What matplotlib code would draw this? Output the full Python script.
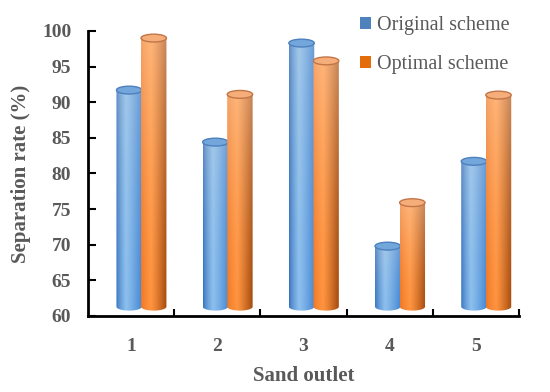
import numpy as np
import matplotlib.pyplot as plt
from matplotlib.patches import Ellipse, Polygon

outlets = ['1', '2', '3', '4', '5']
original = [91.7, 84.4, 98.3, 69.8, 81.7]
optimal = [99.0, 91.1, 95.8, 75.9, 91.0]
series_names = ['Original scheme', 'Optimal scheme']

plt.rcParams['font.family'] = ['Liberation Serif', 'DejaVu Serif']
GRAY = '#595959'

BASE = 61.3
EH = 0.55  # half height of the end ellipses, in data units

# left edge, highlight, right edge, top face, outline
BLUE = dict(dark=(0.20, 0.44, 0.74), light=(0.55, 0.75, 0.93), right=(0.27, 0.53, 0.83),
            top=(0.45, 0.65, 0.86), edge=(0.30, 0.50, 0.74), legend='#4f81bd', mix=0.18)
ORANGE = dict(dark=(0.93, 0.46, 0.14), light=(1.0, 0.58, 0.25), right=(0.64, 0.29, 0.05),
              top=(0.96, 0.68, 0.48), edge=(0.76, 0.46, 0.28), legend='#e46c0a', mix=0.36)


def shade(style, n=60, m=80):
    t = np.linspace(0, 1, n)
    dark, light, right = (np.array(style[k]) for k in ('dark', 'light', 'right'))
    row = np.empty((n, 3))
    for i, ti in enumerate(t):
        if ti < 0.38:
            f = (ti / 0.38) ** 0.7
            row[i] = dark * (1 - f) + light * f
        else:
            f = ((ti - 0.38) / 0.62) ** 1.2
            row[i] = light * (1 - f) + right * f
    v = np.linspace(0, 1, m)[:, None, None]  # 0 at bottom, 1 at top
    mix = style['mix'] * v ** 1.5
    img = row[None, :, :] * (1 - mix) + np.array([1.0, 0.93, 0.86]) * mix
    return np.clip(img, 0, 1)


def cylinder(ax, x0, x1, val, style, z):
    xc = (x0 + x1) / 2
    a = (x1 - x0) / 2
    th = np.linspace(np.pi, 2 * np.pi, 40)
    arc = np.column_stack([xc + a * np.cos(th), BASE + EH * np.sin(th)])
    pts = np.vstack([[x0, val], arc, [x1, val]])
    clip = Polygon(pts, closed=True, facecolor='none', edgecolor='none', transform=ax.transData)
    ax.add_patch(clip)
    im = ax.imshow(shade(style), extent=[x0, x1, BASE - EH, val], origin='lower',
                   aspect='auto', interpolation='bilinear', zorder=z)
    im.set_clip_path(clip)
    ax.add_patch(Ellipse((xc, val), 2 * a, 2 * EH, facecolor=style['top'],
                         edgecolor=style['edge'], lw=1.0, zorder=z + 0.5))


fig = plt.figure(figsize=(5.5, 3.92), dpi=100)
ax = fig.add_axes([0.16, 0.194, 0.7836, 0.727])

x = np.arange(1, len(outlets) + 1)
for i, xi in enumerate(x):
    cylinder(ax, xi - 0.17, xi + 0.125, original[i], BLUE, 2)
    cylinder(ax, xi + 0.115, xi + 0.41, optimal[i], ORANGE, 3)

ax.set_xlim(0.5, 5.5)
ax.set_ylim(60, 100)
ax.set_yticks(np.arange(60, 101, 5))
ax.set_xticks(x)
ax.set_xticklabels(outlets)
ax.set_xticks(np.arange(1.5, 5.6, 1), minor=True)
ax.tick_params(axis='x', which='major', length=0, pad=16)
ax.tick_params(axis='x', which='minor', direction='in', length=5, width=1.5, color='black')
ax.tick_params(axis='y', direction='in', length=6, width=1.5, pad=12)
for lab in ax.get_xticklabels() + ax.get_yticklabels():
    lab.set_fontsize(14)
    lab.set_fontweight('bold')
    lab.set_color(GRAY)

for s in ['top', 'right']:
    ax.spines[s].set_visible(False)
for s in ['left', 'bottom']:
    ax.spines[s].set_linewidth(2)
    ax.spines[s].set_color('black')

ax.set_xlabel('Sand outlet', fontsize=15, fontweight='bold', color=GRAY, labelpad=8)
ax.set_ylabel('Separation rate (%)', fontsize=15, fontweight='bold', color=GRAY, labelpad=8)

handles = [plt.Rectangle((0, 0), 1, 1, facecolor=BLUE['legend']),
           plt.Rectangle((0, 0), 1, 1, facecolor=ORANGE['legend'])]
leg = fig.legend(handles, series_names, loc='upper left', bbox_to_anchor=(0.622, 1.005),
                 frameon=False, fontsize=14.5, handlelength=0.55, handleheight=0.55,
                 handletextpad=0.3, labelspacing=1.0)
for t in leg.get_texts():
    t.set_color(GRAY)

fig.savefig('out.png', dpi=100)
